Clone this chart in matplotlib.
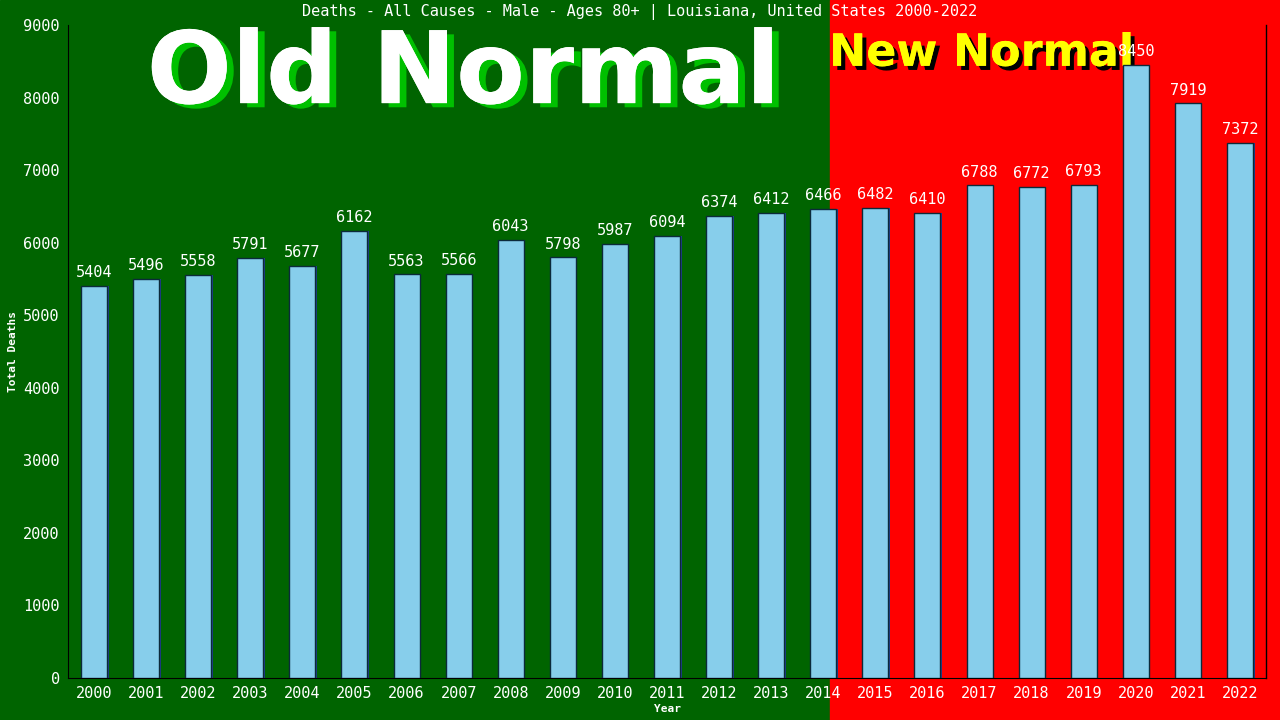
import matplotlib
matplotlib.use("Agg")
import matplotlib.pyplot as plt
import matplotlib.patheffects as pe
from matplotlib.patches import Rectangle

years = [str(y) for y in range(2000, 2023)]
deaths = [5404, 5496, 5558, 5791, 5677, 6162, 5563, 5566, 6043, 5798, 5987, 6094,
          6374, 6412, 6466, 6482, 6410, 6788, 6772, 6793, 8450, 7919, 7372]
yticks = list(range(0, 9001, 1000))

fig = plt.figure(figsize=(12.8, 7.2), dpi=100)
split = 830 / 1280
fig.patches.append(Rectangle((0, 0), split, 1, transform=fig.transFigure, color="#006400", zorder=-10))
fig.patches.append(Rectangle((split, 0), 1 - split, 1, transform=fig.transFigure, color="#ff0000", zorder=-10))

ax = fig.add_axes([68 / 1280, 42 / 720, 1198 / 1280, 653 / 720])
ax.patch.set_alpha(0)
mono = "DejaVu Sans Mono"
x = list(range(len(years)))
ax.bar([i + 0.03 for i in x], deaths, width=0.5, color="#1f3f8f", zorder=2)
ax.bar(x, deaths, width=0.5, color="#87ceeb", edgecolor="#0b2a3a", linewidth=1, zorder=3)
for i, v in enumerate(deaths):
    ax.text(i, v + 80, str(v), ha="center", va="bottom", color="white", fontsize=11, family=mono, zorder=5)
ax.set_xlim(-0.5, len(years) - 0.5)
ax.set_ylim(0, 9000)
ax.set_xticks(x, years)
ax.set_yticks(yticks, [str(t) for t in yticks])
ax.tick_params(colors="white", labelsize=11, length=0, pad=6)
for lab in ax.get_xticklabels() + ax.get_yticklabels():
    lab.set_family(mono)
for s in ["top", "right"]:
    ax.spines[s].set_visible(False)
ax.spines["left"].set_color("black")
ax.spines["bottom"].set_color("black")
ax.set_xlabel("Year", color="white", fontsize=8, family=mono, fontweight="bold", labelpad=2)
ax.set_ylabel("Total Deaths", color="white", fontsize=8, family=mono, fontweight="bold")
fig.text(0.5, 0.983, "Deaths - All Causes - Male - Ages 80+ | Louisiana, United States 2000-2022",
         ha="center", va="center", color="white", fontsize=11, family=mono)
ax.plot([22.5, 22.5], [0, 9000], color="black", lw=1, clip_on=False)

fig.text(0.362, 0.895, "Old Normal", ha="center", va="center", color="white", fontsize=72,
         fontweight="bold", zorder=-1,
         path_effects=[pe.withSimplePatchShadow(offset=(5, -3), shadow_rgbFace="#00c000", alpha=1), pe.Normal()])
fig.text(0.767, 0.926, "New Normal", ha="center", va="center", color="#ffff00", fontsize=32,
         fontweight="bold", zorder=-1,
         path_effects=[pe.withSimplePatchShadow(offset=(3, -3), shadow_rgbFace="black", alpha=1), pe.Normal()])
fig.savefig("out.png", dpi=100)
